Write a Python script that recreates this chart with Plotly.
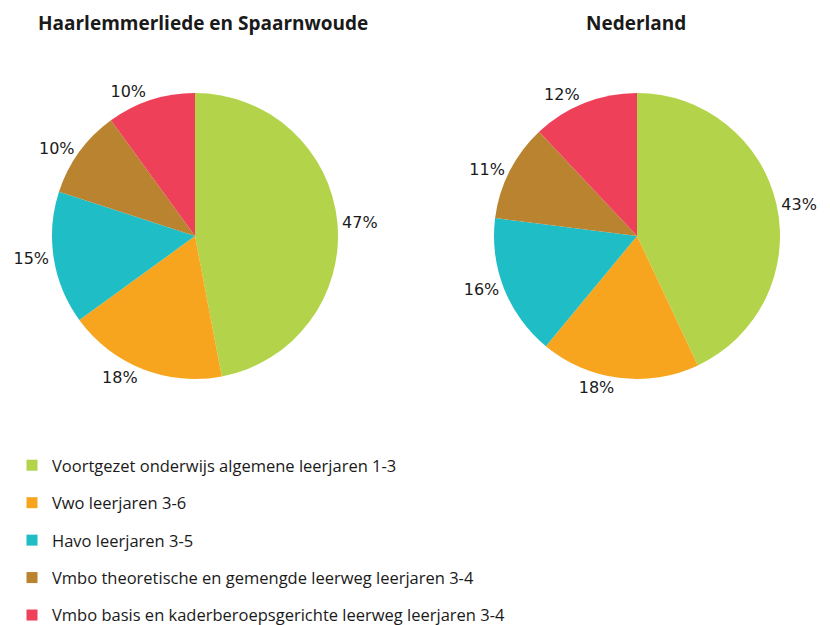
import plotly.graph_objects as go

categories = [
    "Voortgezet onderwijs algemene leerjaren 1-3",
    "Vwo leerjaren 3-6",
    "Havo leerjaren 3-5",
    "Vmbo theoretische en gemengde leerweg leerjaren 3-4",
    "Vmbo basis en kaderberoepsgerichte leerweg leerjaren 3-4",
]
haarlemmerliede = [47, 18, 15, 10, 10]
nederland = [43, 18, 16, 11, 12]
titles = ["Haarlemmerliede en Spaarnwoude", "Nederland"]
colors = ["#B3D44A", "#F7A51E", "#1FBDC6", "#B98330", "#EE4058"]

W, H = 830, 625
FONT = "Open Sans"
TXT = "#1a1a1a"

fig = go.Figure()

domains = [
    dict(x=[44 / W, 330 / W], y=[1 - 371 / H, 1 - 85 / H]),
    dict(x=[486 / W, 772 / W], y=[1 - 371 / H, 1 - 85 / H]),
]

for vals, dom in zip([haarlemmerliede, nederland], domains):
    fig.add_trace(go.Pie(
        labels=categories,
        values=vals,
        sort=False,
        direction="clockwise",
        rotation=0,
        marker=dict(colors=colors, line=dict(width=0)),
        textposition="outside",
        texttemplate="%{value}%",
        textfont=dict(family="DejaVu Sans", size=16, color=TXT),
        domain=dom,
        showlegend=False,
        hoverinfo="label+value",
    ))

# legend entries (one group per category for spacing)
for cat, col in zip(categories, colors):
    fig.add_trace(go.Scatter(
        x=[None], y=[None], mode="markers", name=cat, legendgroup=cat,
        marker=dict(symbol="square", size=11, color=col),
        showlegend=True,
    ))

title_x = [195 / W, 628 / W]
for t, tx in zip(titles, title_x):
    fig.add_annotation(
        text=f"<b>{t}</b>", x=tx, y=1,
        xref="paper", yref="paper", xanchor="center", yanchor="top",
        showarrow=False, font=dict(family=FONT, size=19, color=TXT),
    )

fig.update_layout(
    width=W, height=H,
    margin=dict(l=0, r=0, t=0, b=0),
    paper_bgcolor="white", plot_bgcolor="white",
    xaxis=dict(visible=False), yaxis=dict(visible=False),
    legend=dict(
        x=4 / W, y=1 - 440 / H, xanchor="left", yanchor="top",
        orientation="v", tracegroupgap=13,
        font=dict(family=FONT, size=16.5, color=TXT),
        bgcolor="rgba(0,0,0,0)",
    ),
)

fig.write_html("out.html")
